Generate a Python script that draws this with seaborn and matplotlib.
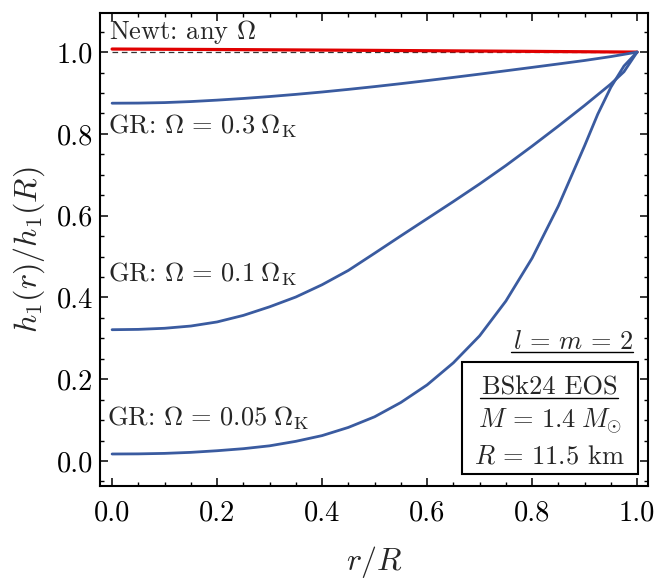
import matplotlib
matplotlib.use("Agg")
import matplotlib.pyplot as plt
import seaborn as sns
import pandas as pd
from matplotlib.ticker import MultipleLocator
from matplotlib.patches import Rectangle
from matplotlib.lines import Line2D

# ---------------- data ----------------
x_newt = [0.0, 0.25, 0.5, 0.75, 1.0]
h_newt = [1.0075, 1.0060, 1.0042, 1.0022, 1.0]

x_ref = [0.0, 1.0]
h_ref = [1.0, 1.0]

x_gr03 = [0.0, 0.05, 0.1, 0.15, 0.2, 0.25, 0.3, 0.35, 0.4, 0.45, 0.5,
          0.55, 0.6, 0.65, 0.7, 0.75, 0.8, 0.85, 0.9, 0.95, 1.0]
h_gr03 = [0.875, 0.8753, 0.8765, 0.879, 0.8825, 0.8866, 0.8913, 0.8966, 0.9024, 0.9088, 0.9156,
          0.9228, 0.9303, 0.9381, 0.9461, 0.9543, 0.9626, 0.9710, 0.9795, 0.9890, 1.0]

x_gr01 = [0.0, 0.05, 0.1, 0.15, 0.2, 0.25, 0.3, 0.35, 0.4, 0.45, 0.5,
          0.55, 0.6, 0.65, 0.7, 0.75, 0.8, 0.85, 0.9, 0.95, 0.975, 1.0]
h_gr01 = [0.321, 0.3218, 0.3245, 0.330, 0.340, 0.356, 0.377, 0.401, 0.431, 0.466, 0.508,
          0.5505, 0.5925, 0.6345, 0.6775, 0.7225, 0.770, 0.819, 0.8695, 0.922, 0.952, 1.0]

x_gr005 = [0.0, 0.05, 0.1, 0.15, 0.2, 0.25, 0.3, 0.35, 0.4, 0.45, 0.5,
           0.55, 0.6, 0.65, 0.7, 0.75, 0.8, 0.85, 0.9, 0.925, 0.95, 0.975, 1.0]
h_gr005 = [0.017, 0.0173, 0.0185, 0.021, 0.025, 0.030, 0.037, 0.048, 0.062, 0.082, 0.108,
           0.143, 0.186, 0.240, 0.306, 0.391, 0.496, 0.6235, 0.771, 0.848, 0.914, 0.966, 1.0]

x_ticks = [0.0, 0.2, 0.4, 0.6, 0.8, 1.0]
y_ticks = [0.0, 0.2, 0.4, 0.6, 0.8, 1.0]

# ---------------- style ----------------
sns.set_theme(style="ticks")
plt.rcParams.update({
    "font.family": "serif",
    "font.serif": ["cmr10"],
    "mathtext.fontset": "cm",
    "axes.formatter.use_mathtext": True,
    "axes.unicode_minus": False,
    "axes.linewidth": 1.5,
    "xtick.direction": "in",
    "ytick.direction": "in",
    "xtick.top": True,
    "ytick.right": True,
    "xtick.major.size": 5.5,
    "ytick.major.size": 5.5,
    "xtick.minor.size": 3.2,
    "ytick.minor.size": 3.2,
    "xtick.major.width": 1.1,
    "ytick.major.width": 1.1,
    "xtick.minor.width": 1.0,
    "ytick.minor.width": 1.0,
    "xtick.color": "black",
    "ytick.color": "black",
    "axes.edgecolor": "black",
})

BLUE = "#3a5ba0"
RED = "#e00000"

fig = plt.figure(figsize=(6.58, 5.84), dpi=100)
ax = fig.add_axes([0.152, 0.168, 0.833, 0.810])

ax.plot(x_ref, h_ref, color="#333333", lw=0.9, dashes=(4.5, 3), zorder=2)

for xs, hs, col, lw in [(x_newt, h_newt, RED, 2.3), (x_gr03, h_gr03, BLUE, 2.0),
                        (x_gr01, h_gr01, BLUE, 2.0), (x_gr005, h_gr005, BLUE, 2.0)]:
    df = pd.DataFrame({"r": xs, "h": hs})
    sns.lineplot(data=df, x="r", y="h", ax=ax, color=col, lw=lw,
                 errorbar=None, zorder=3)

ax.set_xlim(-0.023, 1.021)
ax.set_ylim(-0.061, 1.096)
ax.set_xticks(x_ticks)
ax.set_yticks(y_ticks)
ax.xaxis.set_minor_locator(MultipleLocator(0.05))
ax.yaxis.set_minor_locator(MultipleLocator(0.05))
ax.set_xticklabels([f"{v:.1f}" for v in x_ticks])
ax.set_yticklabels([f"{v:.1f}" for v in y_ticks])
ax.tick_params(axis="x", which="major", labelsize=20.5, pad=10)
ax.tick_params(axis="y", which="major", labelsize=20.5, pad=5)
ax.tick_params(which="both", top=True, right=True)

ax.set_xlabel(r"$r/R$", fontsize=23, labelpad=13)
ax.set_ylabel(r"$h_1(r)/h_1(R)$", fontsize=23, labelpad=7)

fs = 19
ax.text(-0.006, 1.032, r"Newt: any $\Omega$", fontsize=fs, va="baseline", ha="left")
ax.text(-0.008, 0.800, r"GR: $\Omega\,=\,0.3\;\Omega_{\mathrm{K}}$", fontsize=fs, va="baseline", ha="left")
ax.text(-0.008, 0.440, r"GR: $\Omega\,=\,0.1\;\Omega_{\mathrm{K}}$", fontsize=fs, va="baseline", ha="left")
ax.text(-0.010, 0.086, r"GR: $\Omega\,=\,0.05\;\Omega_{\mathrm{K}}$", fontsize=fs, va="baseline", ha="left")

# l = m = 2 with underline
ax.text(0.992, 0.274, r"$l\,=\,m\,=\,2$", fontsize=fs, va="baseline", ha="right")
ax.add_line(Line2D([0.7495, 0.9722], [0.2827, 0.2827], transform=ax.transAxes,
                   color="black", lw=1.0))

# box
ax.add_patch(Rectangle((0.660, 0.0254), 0.321, 0.236, transform=ax.transAxes,
                       fill=False, edgecolor="black", lw=1.5, zorder=5))
xc = 0.8206
ax.text(xc, 0.1924, "BSk24 EOS", transform=ax.transAxes, fontsize=fs,
        ha="center", va="baseline")
ax.add_line(Line2D([0.6934, 0.9447], [0.1854, 0.1854], transform=ax.transAxes,
                   color="black", lw=1.0))
ax.text(xc, 0.122, r"$M\,=\,1.4\;M_{\odot}$", transform=ax.transAxes, fontsize=fs,
        ha="center", va="baseline")
ax.text(xc, 0.0465, r"$R\,=\,11.5$ km", transform=ax.transAxes, fontsize=fs,
        ha="center", va="baseline")

fig.savefig("out.png", dpi=100)
